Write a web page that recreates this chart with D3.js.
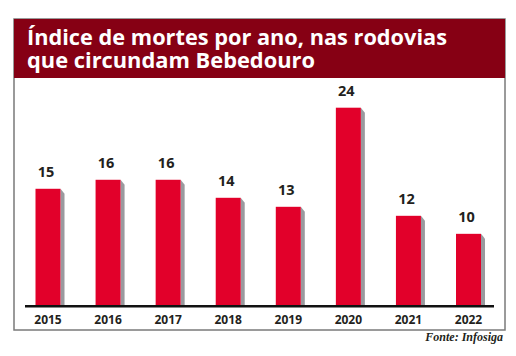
<!DOCTYPE html>
<html><head><meta charset="utf-8">
<script src="https://cdn.jsdelivr.net/npm/d3@7"></script>
<style>body{margin:0;background:#fff}svg{display:block}</style>
</head><body>
<svg id="c" width="516" height="356"></svg>
<script>
const titleLines = ["Índice de mortes por ano, nas rodovias", "que circundam Bebedouro"];
const titleWidths = [420, 288];
const years = ["2015","2016","2017","2018","2019","2020","2021","2022"];
const deaths = [15,16,16,14,13,24,12,10];
const source = "Fonte: Infosiga";

const svg = d3.select("#c");
const box = {x0:14, y0:19, x1:505, y1:330};
const baseY = 305;

// frame
svg.append("rect").attr("x",box.x0).attr("y",box.y0).attr("width",box.x1-box.x0).attr("height",box.y1-box.y0)
  .attr("fill","#fff").attr("stroke","#7a7a7a").attr("stroke-width",1.5);
svg.append("rect").attr("x",box.x0).attr("y",box.y0).attr("width",box.x1-box.x0).attr("height",59)
  .attr("fill","#860014");

titleLines.forEach((t,i)=>{
  svg.append("text").attr("x",27).attr("y",45+i*23.3)
    .attr("fill","#fff").attr("font-family","'Open Sans', sans-serif")
    .attr("font-weight",700).attr("font-size",21)
    .attr("textLength",titleWidths[i]).attr("lengthAdjust","spacingAndGlyphs")
    .text(t);
});

const x = d3.scalePoint().domain(years).range([48, 468.5]);
const y = d3.scaleLinear().domain([2.1, 24]).range([baseY, 107.7]);
const bw = 25, sw = 4;

const g = svg.append("g");
years.forEach((yr,i)=>{
  const cx = x(yr), top = y(deaths[i]);
  const xl = cx - bw/2, xr = cx + bw/2;
  g.append("path").attr("d",`M${xr},${top}L${xr+sw},${top+5}L${xr+sw},${baseY}L${xr},${baseY}Z`)
    .attr("fill","#9a9a9e");
  g.append("rect").attr("x",xl).attr("y",top).attr("width",bw).attr("height",baseY-top).attr("fill","#e2002a");
  g.append("text").attr("x",cx-2).attr("y",top-12).attr("text-anchor","middle")
    .attr("font-family","'Open Sans', sans-serif").attr("font-weight",700).attr("font-size",14.5)
    .attr("fill","#231f20").text(deaths[i]);
  g.append("text").attr("x",cx).attr("y",324).attr("text-anchor","middle")
    .attr("font-family","'Open Sans', sans-serif").attr("font-weight",700).attr("font-size",12)
    .attr("fill","#231f20").text(yr);
});
svg.append("line").attr("x1",25).attr("x2",494).attr("y1",baseY+1.2).attr("y2",baseY+1.2)
  .attr("stroke","#111").attr("stroke-width",2.6);

svg.append("text").attr("x",503).attr("y",341).attr("text-anchor","end")
  .attr("font-family","'Liberation Serif', serif").attr("font-style","italic").attr("font-weight",700)
  .attr("font-size",12).attr("fill","#231f20").text(source);
</script>
</body></html>
